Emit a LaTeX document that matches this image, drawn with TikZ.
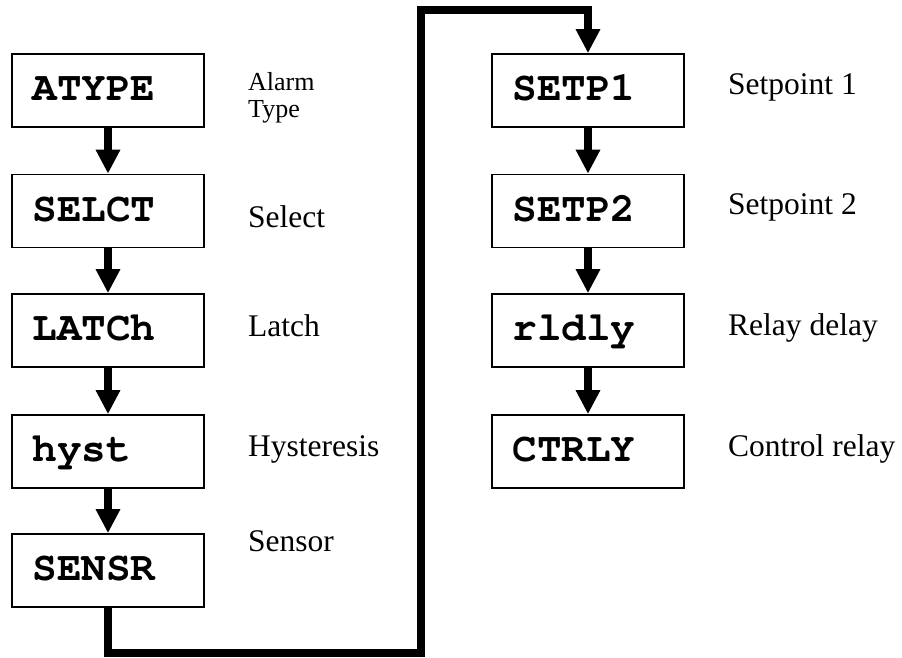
\documentclass[tikz,border=0pt]{standalone}
\usepackage{fontspec}
\setmainfont{Liberation Serif}
\newfontfamily\boxfont{TeX Gyre Cursor}
\usetikzlibrary{arrows.meta}

\tikzset{
  menubox/.style={draw, line width=1.6pt, minimum width=192pt, minimum height=73pt,
    text width=151pt, inner xsep=20.5pt, inner ysep=0pt, align=left,
    text height=24pt, text depth=4pt,
    font=\boxfont\bfseries\fontsize{41}{41}\selectfont},
  flow/.style={line width=8pt, line join=miter,
    -{Triangle[width=23pt,length=24pt]}},
  lbl/.style={anchor=base west, inner sep=0pt, font=\fontsize{31.5}{36}\selectfont},
  smalllbl/.style={anchor=base west, inner sep=0pt, align=left,
    font=\fontsize{26}{27}\selectfont},
}

\begin{document}
\begin{tikzpicture}[x=1pt, y=-1pt]
  \useasboundingbox (0,0) rectangle (902,658);

  % left column of menu items
  \node[menubox] (atype) at (108,90.5)  {ATYPE};
  \node[menubox] (selct) at (108,211)   {SELCT};
  \node[menubox] (latch) at (108,330.5) {LATCh};
  \node[menubox] (hyst)  at (108,451.5) {hyst};
  \node[menubox] (sensr) at (108,570.5) {SENSR};

  % right column of menu items
  \node[menubox] (setpa) at (588,90.5)  {SETP1};
  \node[menubox] (setpb) at (588,211)   {SETP2};
  \node[menubox] (rldly) at (588,330.5) {rldly};
  \node[menubox] (ctrly) at (588,451.5) {CTRLY};

  % descriptions (the two-line one is placed by its last baseline)
  \node[smalllbl] (lalarm) at (248,118) {Alarm\\Type};
  \node[lbl] (lselect) at (248,227) {Select};
  \node[lbl] (llatch)  at (248,336) {Latch};
  \node[lbl] (lhyst)   at (248,456) {Hysteresis};
  \node[lbl] (lsensor) at (248,551) {Sensor};
  \node[lbl] (lsetpa)  at (728,95)  {Setpoint 1};
  \node[lbl] (lsetpb)  at (728,214) {Setpoint 2};
  \node[lbl] (lrldly)  at (728,335) {Relay delay};
  \node[lbl] (lctrly)  at (728,456) {Control relay};

  % arrows down each column
  \draw[flow] (atype) -- (selct);
  \draw[flow] (selct) -- (latch);
  \draw[flow] (latch) -- (hyst);
  \draw[flow] (hyst)  -- (sensr);
  \draw[flow] (setpa) -- (setpb);
  \draw[flow] (setpb) -- (rldly);
  \draw[flow] (rldly) -- (ctrly);

  % return path from the bottom of the left column to the top of the right one
  \coordinate (lowrun)  at (421,653);
  \coordinate (highrun) at (421,10.5);
  \draw[flow] (sensr.south) |- (lowrun) -- (highrun) -| (setpa.north);
\end{tikzpicture}
\end{document}
